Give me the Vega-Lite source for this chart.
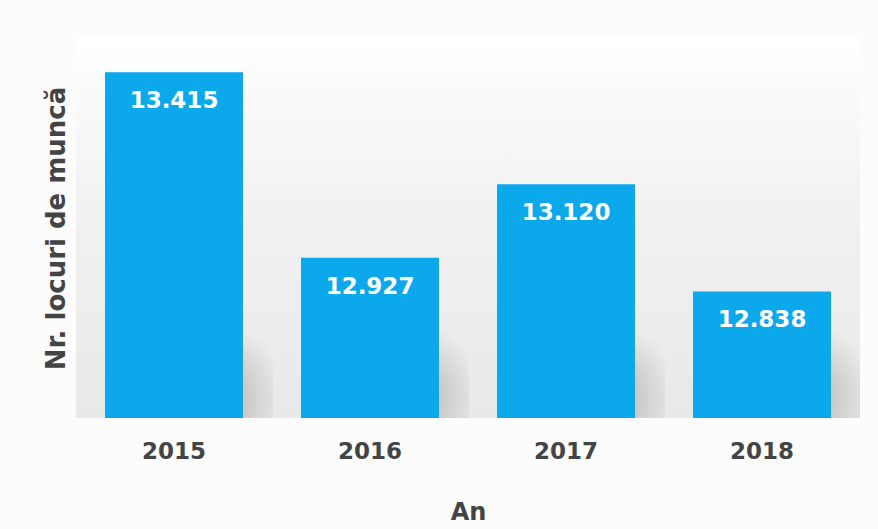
{
  "$schema": "https://vega.github.io/schema/vega-lite/v6.json",
  "width": 784,
  "height": 380,
  "autosize": "none",
  "padding": {"left": 76, "top": 38, "right": 18, "bottom": 111},
  "background": "#fcfcfc",
  "config": {
    "view": {"stroke": null},
    "locale": {"number": {"decimal": ",", "thousands": ".", "grouping": [3], "currency": ["", " lei"]}},
    "font": "DejaVu Sans"
  },
  "data": {
    "values": [
      {"An": "2015", "locuri": 13415},
      {"An": "2016", "locuri": 12927},
      {"An": "2017", "locuri": 13120},
      {"An": "2018", "locuri": 12838}
    ]
  },
  "encoding": {
    "x": {
      "field": "An", "type": "nominal",
      "scale": {"paddingInner": 0.296, "paddingOuter": 0.148},
      "axis": {
        "title": "An", "labelAngle": 0, "domain": false, "ticks": false,
        "labelPadding": 22, "labelFontSize": 23, "labelFontWeight": "bold", "labelColor": "#444444",
        "titleFontSize": 24, "titleFontWeight": "bold", "titleColor": "#444444", "titlePadding": 37
      }
    },
    "y": {
      "field": "locuri", "type": "quantitative",
      "scale": {"domain": [12505, 13505], "zero": false, "nice": false},
      "axis": {
        "title": "Nr. locuri de muncă", "labels": false, "ticks": false, "domain": false, "grid": false,
        "titleFontSize": 26, "titleFontWeight": "bold", "titleColor": "#444444", "titlePadding": 7
      }
    }
  },
  "layer": [
    {
      "data": {"values": [{"bg": 1}]},
      "mark": {
        "type": "rect",
        "color": {"gradient": "linear", "x1": 0, "y1": 0, "x2": 0, "y2": 1,
          "stops": [{"offset": 0, "color": "#ffffff"}, {"offset": 0.45, "color": "#f1f1f1"}, {"offset": 1, "color": "#e9e9e9"}]}
      },
      "encoding": {"x": null, "y": null}
    },
    {
      "mark": {
        "type": "bar", "clip": true, "xOffset": 30,
        "color": {"gradient": "radial", "x1": 0.55, "y1": 0.75, "r1": 0, "x2": 0.55, "y2": 0.75, "r2": 0.55,
          "stops": [{"offset": 0, "color": "rgba(140,140,140,0.6)"}, {"offset": 0.5, "color": "rgba(150,150,150,0.35)"}, {"offset": 1, "color": "rgba(160,160,160,0)"}]}
      },
      "encoding": {
        "y": {"datum": 12800, "type": "quantitative"},
        "y2": {"datum": 12505}
      }
    },
    {"mark": {"type": "bar", "color": "#0ca8ec", "clip": true}},
    {
      "mark": {"type": "text", "color": "white", "fontSize": 23, "fontWeight": "bold", "baseline": "alphabetic", "dy": 36},
      "encoding": {"text": {"field": "locuri", "type": "quantitative", "format": ",.0f"}}
    }
  ]
}
